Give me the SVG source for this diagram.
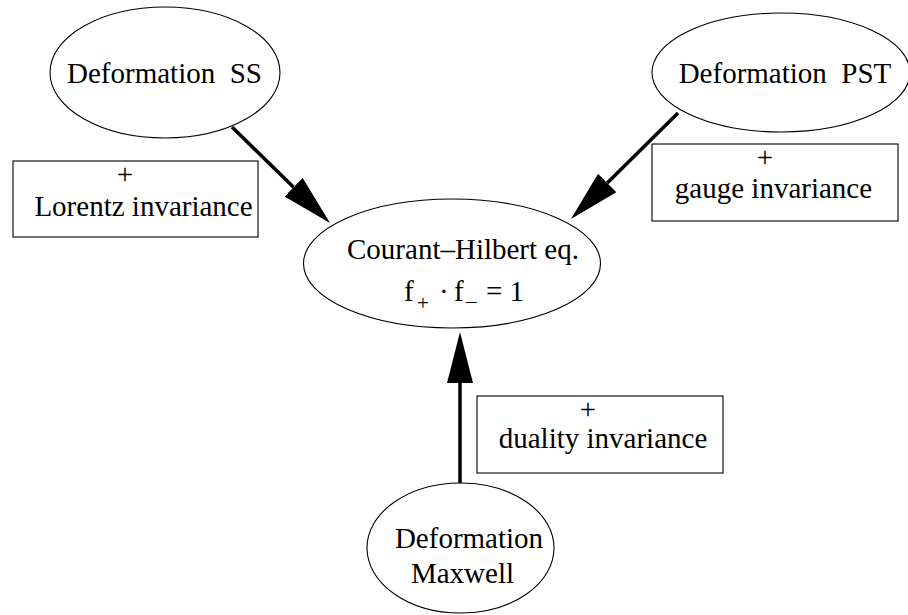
<svg xmlns="http://www.w3.org/2000/svg" width="908" height="615" viewBox="0 0 908 615">
<style>
.node{fill:#fff;stroke:#000;stroke-width:1.1}
.box{fill:#fff;stroke:#000;stroke-width:1.1}
.t{font-family:"Liberation Serif","Times New Roman",serif;font-size:29px;fill:#000;text-anchor:middle;white-space:pre}
.sub{font-size:21px}
.edge{stroke:#000;stroke-width:3.5;fill:none;marker-end:url(#ah)}
</style>
<defs>
<marker id="ah" markerUnits="userSpaceOnUse" markerWidth="52" markerHeight="28" refX="0" refY="13" orient="auto" viewBox="0 0 52 26">
<path d="M0,0 L51,13 L0,26 Z" fill="#000"/>
</marker>
</defs>
<rect width="908" height="615" fill="#fff"/>
<g id="connectors">
<line class="edge" x1="232" y1="127" x2="293.6" y2="187.3"/>
<line class="edge" x1="678" y1="113" x2="607.2" y2="183.1"/>
<line class="edge" x1="460" y1="483" x2="460" y2="383"/>
</g>
<g id="node-ss">
<ellipse class="node" cx="165" cy="72.5" rx="115" ry="65.5"/>
<text class="t" x="164.5" y="83">Deformation  SS</text>
</g>
<g id="node-pst">
<ellipse class="node" cx="781" cy="72.5" rx="129" ry="59.5"/>
<text class="t" x="785" y="83">Deformation  PST</text>
</g>
<g id="node-ch">
<ellipse class="node" cx="452" cy="263.5" rx="148.5" ry="64.5"/>
<text class="t" x="463" y="259">Courant–Hilbert eq.</text>
<text class="t" style="text-anchor:start" y="301"><tspan x="404">f</tspan><tspan class="sub" x="417" y="310">+</tspan><tspan x="439" y="301">·</tspan><tspan x="454">f</tspan><tspan class="sub" x="466" y="308">–</tspan><tspan x="486" y="301">= 1</tspan></text>
</g>
<g id="node-maxwell">
<ellipse class="node" cx="460.5" cy="548" rx="93.5" ry="65"/>
<text class="t" x="469" y="548">Deformation</text>
<text class="t" x="462.5" y="583">Maxwell</text>
</g>
<g id="label-lorentz">
<rect class="box" x="13" y="161" width="245" height="76"/>
<text class="t" x="125" y="184">+</text>
<text class="t" x="143.5" y="216">Lorentz invariance</text>
</g>
<g id="label-gauge">
<rect class="box" x="652" y="144" width="246" height="77"/>
<text class="t" x="765" y="167">+</text>
<text class="t" x="773.5" y="198">gauge invariance</text>
</g>
<g id="label-duality">
<rect class="box" x="477" y="396" width="246" height="77"/>
<text class="t" x="588" y="419">+</text>
<text class="t" x="603" y="448">duality invariance</text>
</g>
</svg>
